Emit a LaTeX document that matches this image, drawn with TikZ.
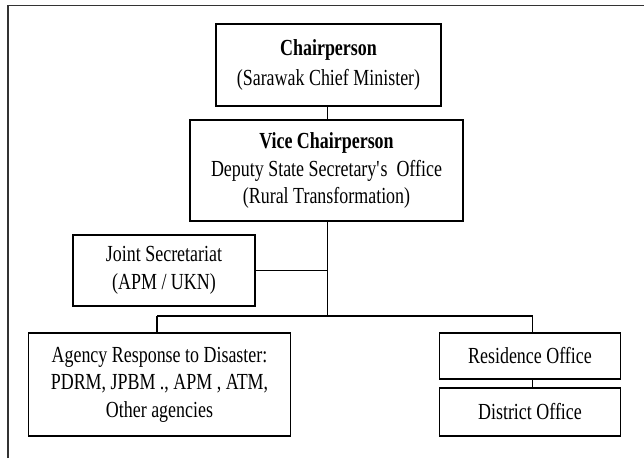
\documentclass[tikz,border=0pt]{standalone}
\usepackage{fontspec}
\setmainfont[FakeStretch=0.78]{Liberation Serif}
\usepackage{tikz}

\begin{document}
\begin{tikzpicture}[x=1pt, y=-1pt, line width=1.3pt,
        box/.style={rectangle, draw=black, fill=white, align=center, inner sep=2pt,
            font=\fontsize{23}{27.5}\selectfont}]

        \useasboundingbox (0,0) rectangle (644,458);
        \draw[black!80, line width=1.6pt] (8,458) -- (8,5.5) -- (644,5.5);

        \node[box, minimum width=225, minimum height=82, font=\fontsize{23}{30}\selectfont] (chair) at (328.5,65) {\textbf{Chairperson}\\(Sarawak Chief Minister)};
        \node[box, minimum width=273, minimum height=101] (vice) at (326.5,170.5) {\textbf{Vice Chairperson}\\Deputy State Secretary\textquotesingle s~~Office\\(Rural Transformation)};

        \node[box, minimum width=182, minimum height=71] (joint) at (164,270.5) {Joint Secretariat\\(APM / UKN)};

        \node[box, minimum width=262, minimum height=103] (agency) at (159.5,384.5) {Agency Response to Disaster:\\PDRM, JPBM ., APM , ATM,\\Other agencies};
        \node[box, minimum width=181, minimum height=46] (res) at (530,356) {Residence Office};
        \node[box, minimum width=181, minimum height=48] (dist) at (530,412) {District Office};

        \coordinate (bus) at (327.5,316);
        \coordinate (busL) at (157,316);
        \coordinate (busR) at (532.5,316);

        \draw (chair.south -| bus) -- (vice.north -| bus);
        \draw (vice.south -| bus) -- (bus);
        \draw (joint.east) -- (joint.east -| bus);
        \draw (busL) -- (busR);
        \draw (busL) -- (agency.north -| busL);
        \draw (busR) -- (res.north -| busR);
        \draw (res.south -| busR) -- (dist.north -| busR);

    \end{tikzpicture}
\end{document}
